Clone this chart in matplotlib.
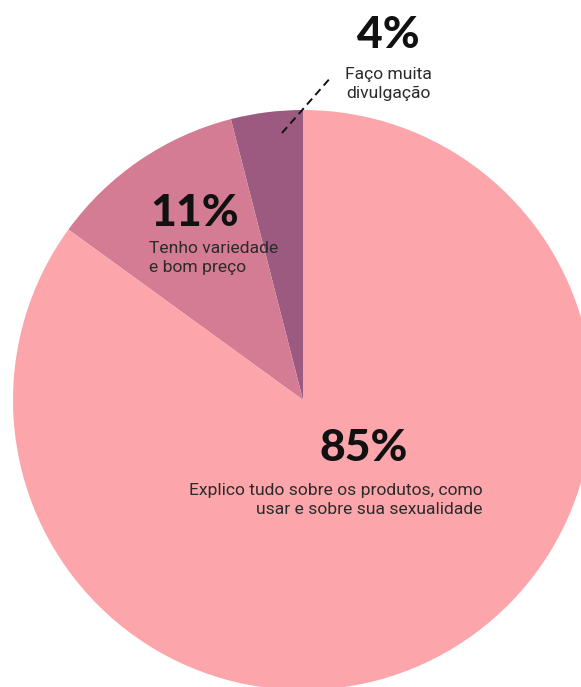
import matplotlib
matplotlib.use("Agg")
import matplotlib.pyplot as plt

# Data
categories = ["Faço muita\ndivulgação", "Tenho variedade\ne bom preço",
              "Explico tudo sobre os produtos, como\nusar e sobre sua sexualidade"]
values = [4, 11, 85]
pct_labels = ["4%", "11%", "85%"]
colors = ["#9D5A80", "#D47C93", "#FCA6AB"]

W, H = 581, 687
fig = plt.figure(figsize=(W / 100, H / 100), dpi=100)
ax = fig.add_axes([0, 0, 1, 1])

def py(y):
    return H - y

ax.pie(values, colors=colors, startangle=90, counterclock=True,
       center=(303, py(400)), radius=290, frame=True,
       wedgeprops=dict(linewidth=0))
ax.set_xlim(0, W)
ax.set_ylim(0, H)
ax.set_aspect("equal")
ax.axis("off")

big = dict(fontsize=32, fontweight="black", color="#111111", family=["Lato", "DejaVu Sans"])
small = dict(fontsize=12.6, color="#2b2b2b", family=["Roboto", "DejaVu Sans"], linespacing=1.3)

# 4%
ax.text(388, py(35), pct_labels[0], ha="center", va="center", **big)
ax.text(388, py(84), categories[0], ha="center", va="center", **small)
ax.plot([282, 332], [py(133), py(76)], color="#111111", lw=1.4, ls=(0, (4, 2.5)))

# 11%
ax.text(150, py(213), pct_labels[1], ha="left", va="center", **big)
ax.text(149, py(258), categories[1], ha="left", va="center", **small)

# 85%
ax.text(364, py(448), pct_labels[2], ha="center", va="center", **big)
ax.text(483, py(500), categories[2], ha="right", va="center", multialignment="right", **small)

fig.savefig("out.png", dpi=100)
